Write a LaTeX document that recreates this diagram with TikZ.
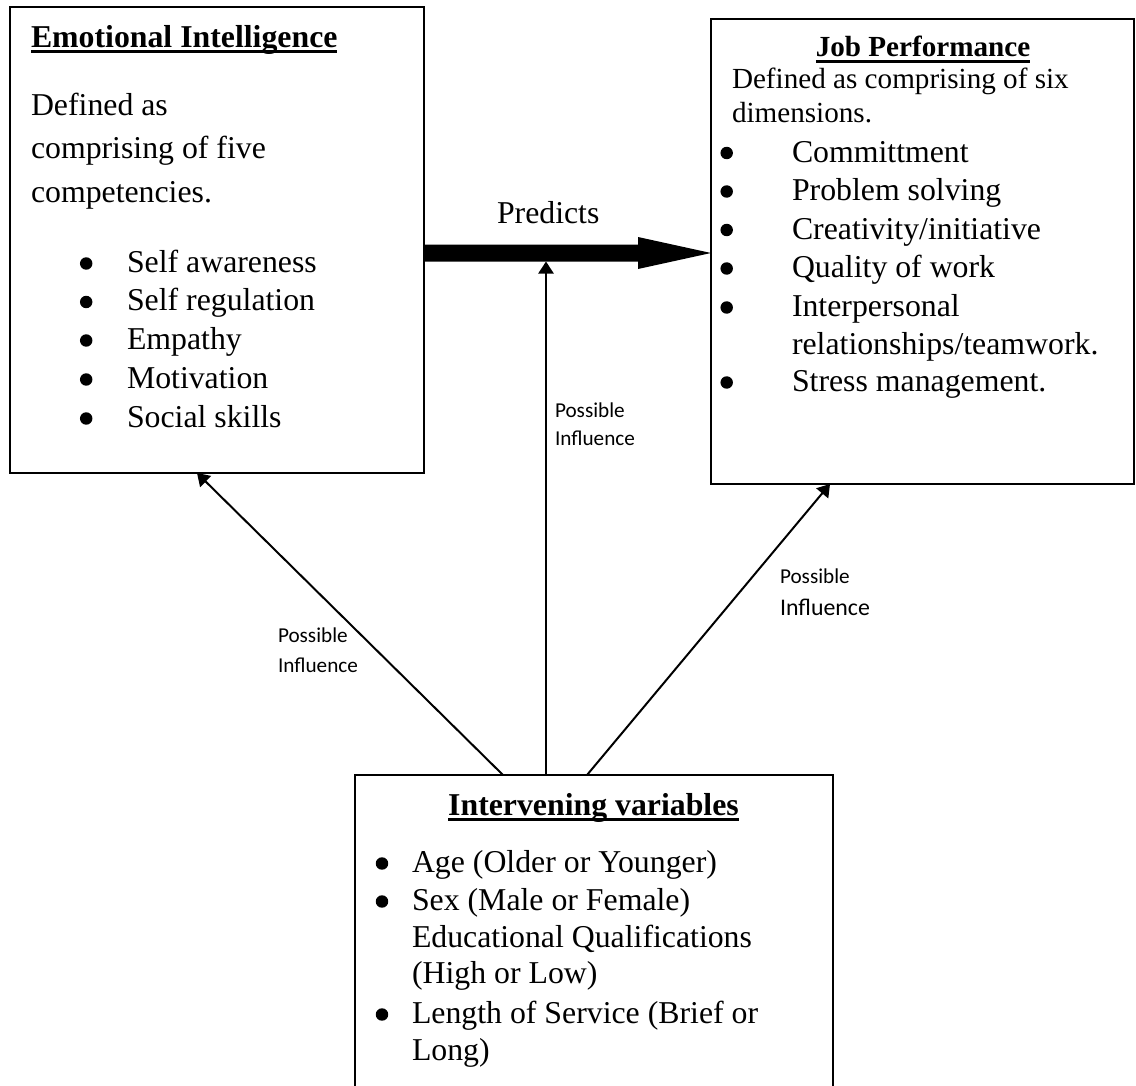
\documentclass[tikz,border=0pt]{standalone}
\usepackage{fontspec}
\setmainfont{Liberation Serif}
\newfontfamily\labfont{Carlito}
\usetikzlibrary{arrows.meta,calc,fit}
\newcommand\myul[1]{\leavevmode\setbox0=\hbox{#1}\rlap{\copy0}\rule[-2.4pt]{\wd0}{1.3pt}}
\begin{document}
\begin{tikzpicture}[x=0.3774pt,y=-0.3774pt,
  box/.style={draw, line width=0.75pt, rectangle, inner sep=0pt, outer sep=0pt},
  txt/.style={anchor=base west, inner sep=0pt, outer sep=0pt, font=\fontsize{12}{14}\selectfont},
  stxt/.style={anchor=base west, inner sep=0pt, outer sep=0pt, font=\fontsize{11}{13}\selectfont},
  ttl/.style={anchor=base west, inner sep=0pt, outer sep=0pt, font=\fontsize{12}{14}\selectfont\bfseries},
  sttl/.style={anchor=base, inner sep=0pt, outer sep=0pt, font=\fontsize{11}{13}\selectfont\bfseries},
  lab/.style={anchor=base west, inner sep=0pt, outer sep=0pt, font=\labfont\fontsize{8}{10}\selectfont},
  dot/.style={circle, fill, inner sep=0pt, outer sep=0pt, minimum size=4.7pt},
  infl/.style={line width=0.75pt, -{Triangle[length=4.6pt,width=5.8pt]}},
]
\useasboundingbox (0,0) rectangle (1136,1086);

% boxes
\node[box, fit={(10,7) (424,473)}] (ei) {};
\node[box, fit={(711,19) (1134,484)}] (jp) {};
\node[box, fit={(355,775) (833,1100)}] (iv) {};

% Emotional Intelligence
\node[ttl] (eit) at (31,47) {\myul{Emotional Intelligence}};
\node[txt] (eid1) at (31,115) {Defined as};
\node[txt] (eid2) at (31,158) {comprising of five};
\node[txt] (eid3) at (31,202) {competencies.};
\foreach \y/\t [count=\i] in {272/{Self awareness}, 310.5/{Self regulation}, 349/{Empathy}, 388/{Motivation}, 427/{Social skills}}{
  \node[dot] (eib\i) at (86.2,\y-8.5) {};
  \node[txt] (eii\i) at (127,\y) {\t};
}

% Job Performance
\node[sttl] (jpt) at (923,57) {\myul{Job Performance}};
\node[stxt] (jpd1) at (732,88) {Defined as comprising of six};
\node[stxt] (jpd2) at (732,122) {dimensions.};
\foreach \y/\t [count=\i] in {162/{Committment}, 200.5/{Problem solving}, 239/{Creativity/initiative}, 277.5/{Quality of work}, 316.5/{Interpersonal}, 391.5/{Stress management.}}{
  \node[dot] (jpb\i) at (726.7,\y-9) {};
  \node[txt] (jpi\i) at (792,\y) {\t};
}
\node[txt] (jpi7) at (792,354) {relationships/teamwork.};

% Intervening variables
\node[ttl, anchor=base] (ivt) at (593.5,815) {\myul{Intervening variables}};
\node[dot] (ivb1) at (382,872-8.5) {};
\node[txt] (ivi1) at (412,872) {Age (Older or Younger)};
\node[dot] (ivb2) at (382,910-8.5) {};
\node[txt] (ivi2) at (412,910) {Sex (Male or Female)};
\node[txt] (ivi3) at (412,947) {Educational Qualifications};
\node[txt] (ivi4) at (412,983.5) {(High or Low)};
\node[dot] (ivb5) at (382,1023-8.5) {};
\node[txt] (ivi5) at (412,1023) {Length of Service (Brief or};
\node[txt] (ivi6) at (412,1060) {Long)};

% Predicts arrow
\coordinate (ptip) at ($(jp.west)+(0,1.5)$);
\coordinate (pstart) at (ei.east |- ptip);
\fill ($(pstart)+(0,-8.5)$) -- ($(ptip)+(-73,-8.5)$) -- ($(ptip)+(-73,-16)$) -- (ptip)
  -- ($(ptip)+(-73,16)$) -- ($(ptip)+(-73,8.5)$) -- ($(pstart)+(0,8.5)$) -- cycle;
\node[txt] (pred) at (497,223) {Predicts};
\coordinate (shaftbot) at ($(pstart)+(122,8.5)$);

% influence arrows
\draw[infl] ($(iv.north west)+(148,0)$) -- ($(ei.south west)+(187,0)$);
\draw[infl] ($(iv.north west)+(191,0)$) -- (shaftbot);
\draw[infl] ($(iv.north west)+(232,0)$) -- ($(jp.south west)+(119,0)$);

% labels
\node[lab] (l1a) at (278,642) {Possible};
\node[lab] (l1b) at (278,672) {Influence};
\node[lab] (l2a) at (555,417) {Possible};
\node[lab] (l2b) at (555,445) {Influence};
\node[lab] (l3a) at (780,583) {Possible};
\node[lab, font=\labfont\fontsize{9}{11}\selectfont] (l3b) at (780,615) {Influence};
\end{tikzpicture}
\end{document}
